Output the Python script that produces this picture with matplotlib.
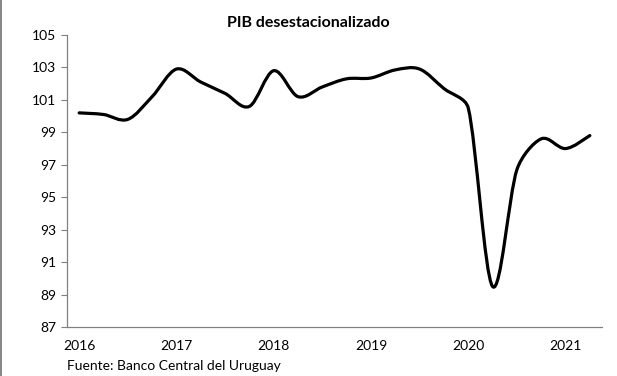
import numpy as np
import matplotlib.pyplot as plt
from matplotlib.path import Path
from matplotlib.patches import PathPatch
from matplotlib.lines import Line2D

# PIB desestacionalizado, trimestral 2016T1 - 2021T2
pib = [100.2, 100.1, 99.8, 101.2, 102.9, 102.1, 101.4, 100.6, 102.8, 101.2, 101.8,
       102.3, 102.35, 102.85, 102.9, 101.7, 100.5, 89.5, 96.7, 98.6, 98.0, 98.8]
years = ['2016', '2017', '2018', '2019', '2020', '2021']
yticks = [87, 89, 91, 93, 95, 97, 99, 101, 103, 105]

plt.rcParams['font.family'] = ['Lato', 'DejaVu Sans']

fig = plt.figure(figsize=(6.17, 3.76), dpi=100)
ax = fig.add_axes([0.1086, 0.1303, 0.8671, 0.7766])

n = len(pib)
ax.set_xlim(-0.5, n - 0.5)
ax.set_ylim(87, 105)


def ctrl(v, seg, tmax=0.35):
    # limita el largo del punto de control segun el tramo
    ln = np.hypot(*v)
    if ln > seg * tmax:
        v = v * seg * tmax / ln
    return v


# curva suavizada (Bezier por tramos, calculada en pixeles)
pts = ax.transData.transform(np.column_stack([np.arange(n), pib]))
verts = [pts[0]]
codes = [Path.MOVETO]
for i in range(n - 1):
    p0, p1 = pts[max(i - 1, 0)], pts[i]
    p2, p3 = pts[i + 1], pts[min(i + 2, n - 1)]
    seg = np.hypot(*(p2 - p1))
    c1 = p1 + ctrl((p2 - p0) / 6, seg)
    c2 = p2 - ctrl((p3 - p1) / 6, seg)
    verts += [c1, c2, p2]
    codes += [Path.CURVE4] * 3
verts = ax.transData.inverted().transform(np.array(verts))
patch = PathPatch(Path(verts, codes), facecolor='none', edgecolor='black',
                  lw=2.3, capstyle='round', joinstyle='round')
ax.add_patch(patch)

ax.set_yticks(yticks)
ax.set_xticks([0, 4, 8, 12, 16, 20])
ax.set_xticklabels(years)
ax.tick_params(axis='x', length=0, pad=9, labelsize=10)
ax.tick_params(axis='y', length=4, width=0.8, color='#808080', labelsize=10, pad=4)

for s in ['top', 'right']:
    ax.spines[s].set_visible(False)
for s in ['left', 'bottom']:
    ax.spines[s].set_color('#808080')
    ax.spines[s].set_linewidth(0.9)

fig.text(0.5, 0.94, 'PIB desestacionalizado', ha='center', va='center',
         fontsize=11.5, fontweight='bold')
fig.text(0.1086, 0.027, 'Fuente: Banco Central del Uruguay', ha='left',
         va='center', fontsize=10)

fig.add_artist(Line2D([0.002, 0.002], [0, 1], transform=fig.transFigure,
                      color='#707070', lw=1.2))

fig.savefig('out.png', dpi=100)
